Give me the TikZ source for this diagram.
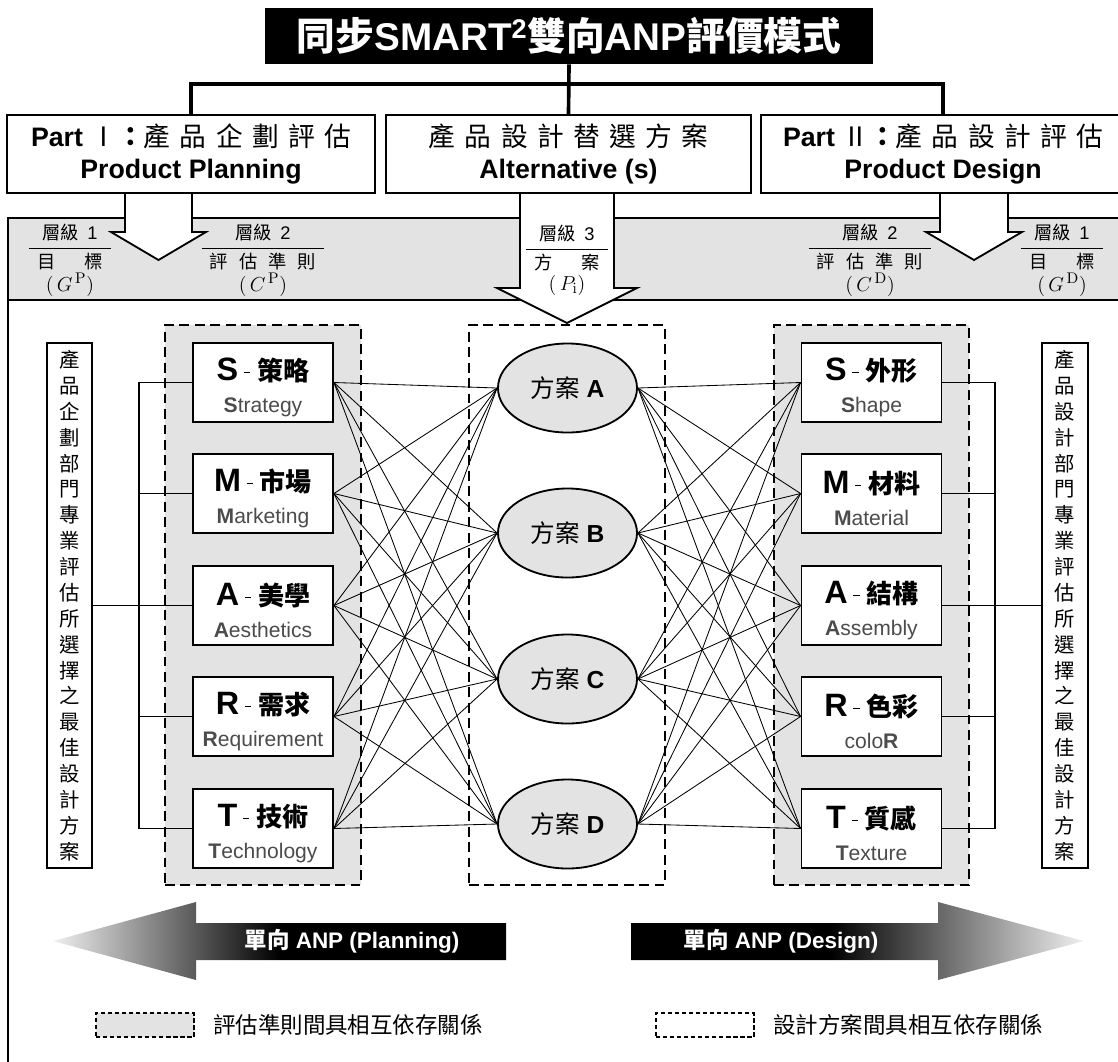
\documentclass[tikz,border=0pt]{standalone}
\usepackage[no-math]{fontspec}
\setmainfont{Liberation Sans}
\newfontfamily\cjk{Noto Sans CJK TC}
\usetikzlibrary{positioning, shapes.geometric}
\definecolor{boxgray}{gray}{0.89}
\definecolor{subgray}{gray}{0.3}
\newcommand{\ls}{\hspace{0.35em}}
\newcommand{\dashmark}{\hspace{4pt}\rule[5.8pt]{4.5pt}{0.7pt}\hspace{5pt}}
\newcommand{\critlabel}[3]{\rule{0pt}{23pt}{\fontsize{23}{23}\selectfont\bfseries #1}\dashmark{\cjk\bfseries\fontsize{18.5}{18.5}\selectfont #2}\\{\color{subgray}#3}}
\newcommand{\lvlabel}[3]{\begin{tabular}{c}{\cjk 層級}\hspace{0.45em}#1\\[1pt]\hline\rule{0pt}{14pt}{\cjk #2}\\[-1pt]{\fontsize{15}{15}\selectfont #3}\end{tabular}}
\pgfdeclarehorizontalshading{planshade}{100bp}{color(0bp)=(black!6); color(25bp)=(black!6); color(50bp)=(black); color(100bp)=(black)}
\pgfdeclarehorizontalshading{designshade}{100bp}{color(0bp)=(black); color(47bp)=(black); color(75bp)=(black!6); color(100bp)=(black!6)}
\tikzset{
	titlebox/.style={fill=black, text=white, minimum width=15.2cm, minimum height=1.4cm, inner sep=0pt, font=\fontsize{27.5}{30}\selectfont\bfseries},
	partbox/.style={draw, line width=1.2pt, fill=white, minimum height=1.95cm, inner sep=0pt, align=center, font=\fontsize{19}{23}\selectfont},
	bus/.style={line width=2.6pt, line join=miter},
	band/.style={draw, line width=1.2pt, fill=boxgray},
	blockarrow/.style={draw, line width=1.3pt, fill=white, line join=miter},
	lvl/.style={inner sep=0pt, font=\fontsize{13}{16}\selectfont},
	grp/.style={draw, line width=1.3pt, dash pattern=on 7pt off 4pt, minimum width=4.9cm, minimum height=14cm},
	crit/.style={draw, line width=1.3pt, fill=white, minimum width=3.5cm, minimum height=1.975cm, inner sep=0pt, align=center, font=\fontsize{15}{22.2}\selectfont},
	alt/.style={ellipse, draw, line width=1.3pt, fill=boxgray, minimum width=3.475cm, minimum height=2.225cm, inner sep=0pt, font=\fontsize{17.5}{17.5}\selectfont},
	vtext/.style={draw, line width=1.3pt, fill=white, minimum width=1.125cm, minimum height=13.125cm, inner sep=0pt, align=center, font=\cjk\fontsize{14.5}{18.4}\selectfont},
	link/.style={line width=1.3pt},
	web/.style={line width=0.6pt},
	uni/.style={text=white, font=\fontsize{16}{16}\selectfont\bfseries},
	keybox/.style={draw, line width=1pt, dash pattern=on 3pt off 2pt, minimum width=2.45cm, minimum height=0.6cm},
	keytext/.style={font=\cjk\fontsize{16}{16}\selectfont, inner sep=0pt}
}

\begin{document}
\begin{tikzpicture}[x=0.025cm, y=-0.025cm]
\useasboundingbox (0,0) rectangle (1118,1061);
% level band and frame
\draw[band] (8,218) rectangle (1140,300);
\draw[line width=1.2pt] (8,300) -- (8,1070);
\draw[blockarrow] (125,193) -- (125,232) -- (111,232) -- (158.5,260) -- (206,232) -- (192,232) -- (192,193) -- cycle;
\draw[blockarrow] (520,193) -- (520,288) -- (497,288) -- (567,323) -- (637,288) -- (614,288) -- (614,193) -- cycle;
\draw[blockarrow] (940,193) -- (940,232) -- (926,232) -- (974,260) -- (1022,232) -- (1008,232) -- (1008,193) -- cycle;

\node[titlebox] (title) at (569,36) {{\cjk\bfseries 同步}SMART\textsuperscript{2}{\cjk\bfseries 雙向}ANP{\cjk\bfseries 評價模式}};
\node[partbox, minimum width=9.2cm] (partP) at (191,154) {\textbf{Part} {\cjk Ⅰ\textbf{：}產\ls{}品\ls{}企\ls{}劃\ls{}評\ls{}估}\\\textbf{Product Planning}};
\node[partbox, minimum width=9.125cm] (partA) at (568.5,154) {{\cjk 產\ls{}品\ls{}設\ls{}計\ls{}替\ls{}選\ls{}方\ls{}案}\\\textbf{Alternative (s)}};
\node[partbox, minimum width=9.1cm] (partD) at (943,154) {\textbf{Part} {\cjk Ⅱ\textbf{：}產\ls{}品\ls{}設\ls{}計\ls{}評\ls{}估}\\\textbf{Product Design}};
\draw[bus] (title.south) -- (partA.north);
\draw[bus] (partP.north) -- ++(0,-30) -| (partD.north);

\node[lvl] (lvP1) at (70,261) {\lvlabel{1}{目\hspace{1.6em}標}{$(\,G^{\,\mathrm{P}})$}};
\node[lvl] (lvP2) at (263,261) {\lvlabel{2}{評\hspace{0.6em}估\hspace{0.6em}準\hspace{0.6em}則}{$(\,C^{\,\mathrm{P}})$}};
\node[lvl] (lvA) at (567,261) {\lvlabel{3}{方\hspace{1.6em}案}{$(\,P_{\mathrm{i}})$}};
\node[lvl] (lvD2) at (870,261) {\lvlabel{2}{評\hspace{0.6em}估\hspace{0.6em}準\hspace{0.6em}則}{$(\,C^{\,\mathrm{D}})$}};
\node[lvl] (lvD1) at (1062,261) {\lvlabel{1}{目\hspace{1.6em}標}{$(\,G^{\,\mathrm{D}})$}};

% interdependence groups
\node[grp, fill=boxgray] (grpP) at (263,605) {};
\node[grp, fill=white] (grpA) at (567,605) {};
\node[grp, fill=boxgray, minimum width=4.875cm] (grpD) at (871.5,605) {};

\node[vtext] (plan) at (69.5,605.5) {產\\品\\企\\劃\\部\\門\\專\\業\\評\\估\\所\\選\\擇\\之\\最\\佳\\設\\計\\方\\案};
\node[vtext, minimum width=1.15cm] (design) at (1065,605.5) {產\\品\\設\\計\\部\\門\\專\\業\\評\\估\\所\\選\\擇\\之\\最\\佳\\設\\計\\方\\案};

\node[crit] (cpS) at (263,382.5) {\critlabel{S}{策略}{\textbf{S}trategy}};
\node[crit] (cpM) at (263,493.5) {\critlabel{M}{市場}{\textbf{M}arketing}};
\node[crit] (cpA) at (263,605.5) {\critlabel{A}{美學}{\textbf{A}esthetics}};
\node[crit] (cpR) at (263,716.5) {\critlabel{R}{需求}{\textbf{R}equirement}};
\node[crit] (cpT) at (263,828.5) {\critlabel{T}{技術}{\textbf{T}echnology}};

\node[crit] (cdS) at (871.5,382.5) {\critlabel{S}{外形}{\textbf{S}hape}};
\node[crit] (cdM) at (871.5,493.5) {\critlabel{M}{材料}{\textbf{M}aterial}};
\node[crit] (cdA) at (871.5,605.5) {\critlabel{A}{結構}{\textbf{A}ssembly}};
\node[crit] (cdR) at (871.5,716.5) {\critlabel{R}{色彩}{colo\textbf{R}}};
\node[crit] (cdT) at (871.5,828.5) {\critlabel{T}{質感}{\textbf{T}exture}};

\node[alt] (altA) at (567.5,388) {{\cjk 方案} \textbf{A}};
\node[alt] (altB) at (567.5,533) {{\cjk 方案} \textbf{B}};
\node[alt] (altC) at (567.5,679) {{\cjk 方案} \textbf{C}};
\node[alt] (altD) at (567.5,824) {{\cjk 方案} \textbf{D}};

\foreach \c in {S,M,A,R,T}{
	\foreach \a in {A,B,C,D}{
		\draw[web] (cp\c.east) -- (alt\a.west);
		\draw[web] (alt\a.east) -- (cd\c.west);
	}
}

\coordinate (treeP) at (139,605.5);
\coordinate (treeD) at (995,605.5);
\foreach \c in {S,M,A,R,T}{
	\draw[link] (cp\c.west) -| (treeP);
	\draw[link] (cd\c.east) -| (treeD);
}
\draw[link] (plan.east) -- (cpA.west);
\draw[link] (cdA.east) -- (design.west);

% one-way ANP arrows
\shade[shading=planshade] (53,941) -- (196,902) -- (196,923) -- (506,923) -- (506,960) -- (196,960) -- (196,980) -- cycle;
\shade[shading=designshade] (631,923) -- (938,923) -- (938,902) -- (1084,941) -- (938,980) -- (938,960) -- (631,960) -- cycle;
\node[uni] (uniP) at (352,941) {{\cjk\bfseries 單向} ANP (Planning)};
\node[uni] (uniD) at (781,941) {{\cjk\bfseries 單向} ANP (Design)};

% legend
\node[keybox, fill=boxgray] (keyC) at (145,1025) {};
\node[keytext, right=0.45cm of keyC] (keyCt) {評估準則間具相互依存關係};
\node[keybox, fill=white] (keyA) at (705,1025) {};
\node[keytext, right=0.45cm of keyA] (keyAt) {設計方案間具相互依存關係};
\end{tikzpicture}
\end{document}
